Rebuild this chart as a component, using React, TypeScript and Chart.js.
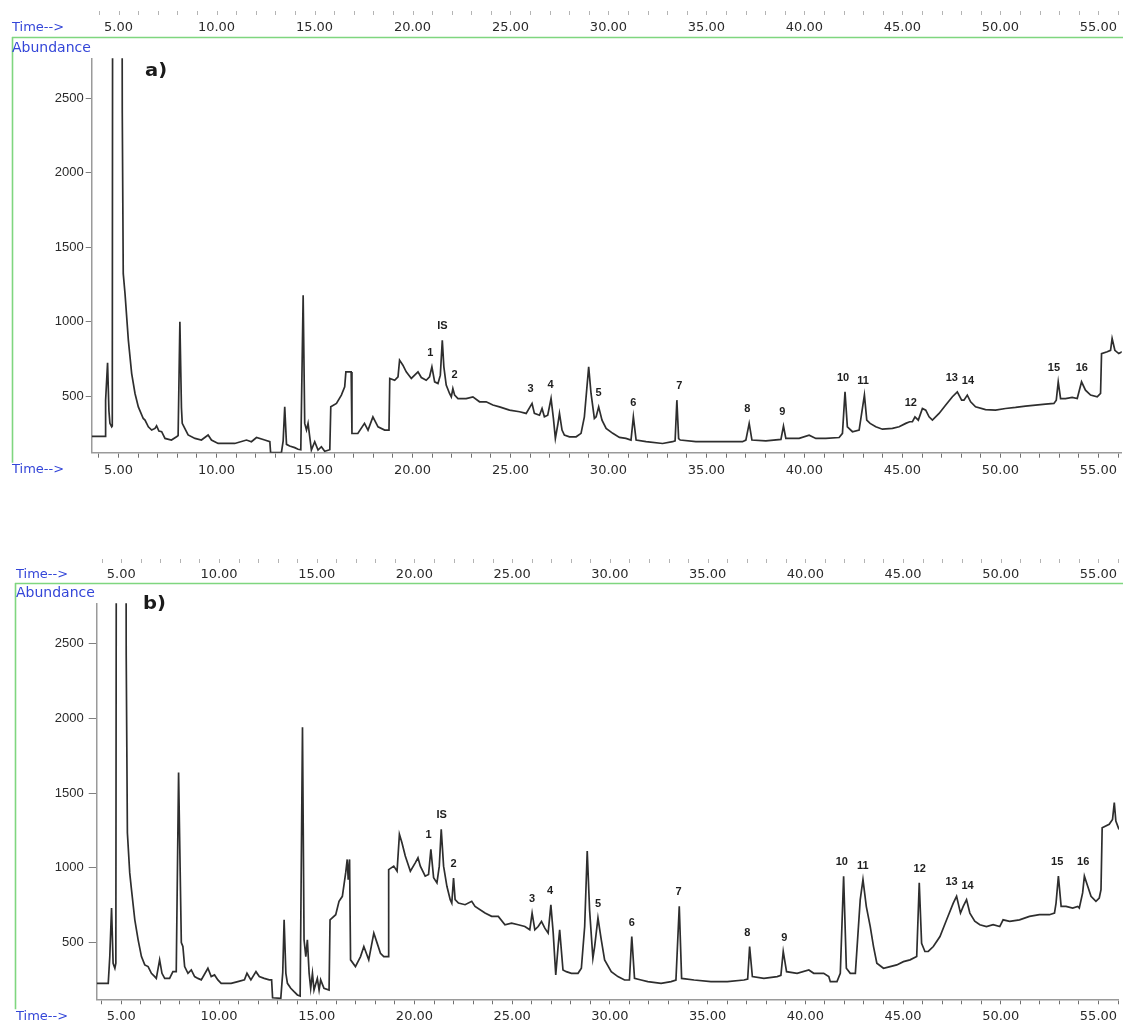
import React, { useEffect, useRef } from 'react';
import { Chart, registerables } from 'chart.js';

Chart.register(...registerables);

// ---------- data (retention time in minutes, abundance) ----------
const timesA = [3.63, 4.31, 4.34, 4.44, 4.51, 4.56, 4.65, 4.68, 4.73, 5.12, 5.19, 5.24, 5.33, 5.50, 5.67, 5.84, 6.01, 6.26, 6.35, 6.52, 6.69, 6.86, 6.94, 7.06, 7.20, 7.37, 7.70, 7.96, 8.04, 8.13, 8.21, 8.25, 8.38, 8.55, 8.90, 9.23, 9.57, 9.74, 10.08, 10.93, 11.53, 11.78, 12.04, 12.46, 12.72, 12.76, 13.31, 13.40, 13.48, 13.57, 13.73, 13.99, 14.16, 14.30, 14.42, 14.50, 14.59, 14.67, 14.84, 15.01, 15.18, 15.35, 15.52, 15.78, 15.83, 16.12, 16.37, 16.54, 16.60, 16.87, 16.91, 17.21, 17.55, 17.73, 17.98, 18.24, 18.58, 18.80, 18.84, 19.09, 19.26, 19.34, 19.51, 19.68, 19.94, 20.11, 20.28, 20.45, 20.70, 20.87, 20.99, 21.13, 21.30, 21.42, 21.52, 21.60, 21.72, 21.89, 21.98, 22.06, 22.15, 22.32, 22.74, 23.08, 23.42, 23.76, 24.10, 24.44, 24.95, 25.46, 25.80, 26.10, 26.22, 26.48, 26.61, 26.73, 26.90, 27.07, 27.19, 27.29, 27.41, 27.50, 27.63, 27.75, 28.01, 28.35, 28.60, 28.77, 28.99, 29.11, 29.28, 29.37, 29.50, 29.67, 29.88, 30.22, 30.56, 30.89, 31.15, 31.27, 31.41, 31.92, 32.76, 33.27, 33.40, 33.49, 33.58, 33.66, 34.46, 35.31, 36.16, 36.84, 37.01, 37.18, 37.32, 38.03, 38.80, 38.93, 39.05, 39.73, 40.24, 40.58, 41.09, 41.77, 41.94, 42.07, 42.19, 42.45, 42.79, 43.06, 43.18, 43.35, 43.64, 43.98, 44.49, 44.83, 45.17, 45.37, 45.51, 45.64, 45.81, 46.02, 46.19, 46.36, 46.53, 46.87, 47.21, 47.55, 47.80, 48.02, 48.14, 48.31, 48.48, 48.73, 49.24, 49.75, 50.26, 50.77, 51.28, 51.79, 52.30, 52.73, 52.85, 52.95, 53.07, 53.32, 53.66, 53.92, 54.14, 54.34, 54.60, 54.94, 55.11, 55.16, 55.45, 55.62, 55.70, 55.84, 56.04, 56.21];
const abundanceA = [230, 230, 473, 724, 400, 317, 294, 300, 9000, 9000, 2408, 1323, 1189, 876, 652, 518, 428, 350, 339, 294, 272, 283, 300, 265, 261, 216, 205, 227, 235, 999, 420, 317, 283, 239, 216, 205, 239, 205, 182, 182, 205, 194, 222, 205, 194, 120, 120, 200, 428, 176, 165, 154, 143, 140, 1178, 317, 272, 317, 138, 194, 138, 160, 130, 140, 428, 451, 507, 563, 663, 663, 249, 249, 317, 272, 361, 294, 272, 272, 619, 607, 630, 742, 708, 663, 619, 641, 663, 625, 607, 630, 697, 596, 585, 641, 876, 697, 574, 518, 495, 551, 507, 484, 484, 495, 462, 462, 440, 428, 406, 395, 384, 451, 384, 372, 417, 361, 372, 484, 350, 216, 306, 384, 272, 238, 227, 227, 250, 361, 697, 518, 350, 361, 428, 339, 283, 250, 223, 216, 205, 361, 205, 194, 182, 194, 200, 473, 215, 205, 194, 194, 194, 194, 205, 317, 205, 200, 209, 299, 216, 216, 238, 216, 216, 222, 250, 529, 294, 261, 272, 507, 339, 317, 294, 278, 283, 294, 317, 328, 328, 361, 339, 417, 406, 361, 339, 384, 440, 496, 529, 473, 473, 507, 462, 428, 410, 406, 417, 424, 433, 440, 446, 451, 473, 596, 484, 484, 491, 484, 596, 540, 507, 496, 518, 786, 798, 808, 887, 808, 786, 798];

const timesB = [3.74, 4.33, 4.41, 4.50, 4.58, 4.67, 4.72, 4.79, 5.18, 5.25, 5.31, 5.43, 5.52, 5.69, 5.86, 6.03, 6.20, 6.37, 6.54, 6.71, 6.79, 6.96, 7.08, 7.22, 7.47, 7.64, 7.81, 7.93, 8.07, 8.15, 8.24, 8.41, 8.58, 8.75, 8.92, 9.09, 9.43, 9.60, 9.77, 9.94, 10.11, 10.62, 10.96, 11.30, 11.43, 11.63, 11.89, 12.06, 12.31, 12.57, 12.69, 12.74, 13.16, 13.26, 13.33, 13.42, 13.50, 13.67, 13.84, 14.01, 14.15, 14.27, 14.35, 14.44, 14.52, 14.61, 14.69, 14.78, 14.86, 15.03, 15.12, 15.20, 15.37, 15.63, 15.68, 15.97, 16.14, 16.31, 16.48, 16.56, 16.61, 16.68, 16.73, 16.98, 17.24, 17.41, 17.66, 17.92, 18.09, 18.26, 18.43, 18.65, 18.68, 18.94, 19.11, 19.23, 19.36, 19.53, 19.79, 20.04, 20.18, 20.30, 20.55, 20.72, 20.84, 20.98, 21.15, 21.27, 21.37, 21.49, 21.66, 21.83, 21.91, 22.00, 22.08, 22.25, 22.59, 22.93, 23.10, 23.61, 23.95, 24.29, 24.63, 24.97, 25.31, 25.65, 25.90, 26.02, 26.16, 26.33, 26.50, 26.67, 26.84, 26.98, 27.10, 27.23, 27.35, 27.43, 27.60, 27.77, 28.03, 28.37, 28.54, 28.71, 28.84, 28.96, 29.13, 29.22, 29.39, 29.56, 29.73, 30.07, 30.41, 30.75, 31.00, 31.12, 31.26, 31.60, 31.94, 32.62, 33.13, 33.38, 33.55, 33.67, 34.31, 35.17, 36.01, 36.86, 37.05, 37.15, 37.29, 37.88, 38.56, 38.75, 38.87, 39.04, 39.58, 40.18, 40.43, 40.94, 41.20, 41.28, 41.62, 41.79, 41.96, 42.10, 42.30, 42.56, 42.81, 42.95, 43.12, 43.32, 43.49, 43.66, 44.00, 44.34, 44.68, 45.02, 45.36, 45.70, 45.83, 45.95, 46.12, 46.29, 46.55, 46.89, 47.23, 47.57, 47.74, 47.94, 48.08, 48.25, 48.42, 48.67, 48.93, 49.27, 49.61, 49.95, 50.12, 50.46, 50.96, 51.47, 51.98, 52.49, 52.75, 52.83, 52.95, 53.09, 53.34, 53.68, 53.94, 54.02, 54.19, 54.28, 54.45, 54.62, 54.87, 55.04, 55.13, 55.19, 55.55, 55.72, 55.81, 55.89, 56.05];
const abundanceB = [227, 227, 406, 731, 361, 328, 361, 9000, 9000, 2422, 1235, 966, 854, 652, 518, 406, 350, 339, 294, 272, 260, 384, 294, 260, 260, 305, 305, 1638, 500, 473, 339, 294, 317, 272, 260, 250, 328, 272, 283, 250, 227, 227, 238, 250, 294, 250, 305, 272, 260, 250, 250, 130, 126, 300, 652, 294, 227, 194, 171, 149, 142, 1940, 518, 406, 518, 294, 193, 294, 182, 260, 182, 250, 193, 182, 652, 686, 776, 809, 966, 1056, 920, 1056, 384, 339, 406, 473, 384, 563, 496, 428, 406, 406, 988, 1011, 977, 1224, 1168, 1079, 977, 1033, 1067, 1011, 944, 955, 1123, 933, 899, 1011, 1257, 1011, 876, 787, 764, 932, 787, 764, 753, 776, 742, 697, 675, 675, 619, 630, 619, 607, 585, 697, 585, 607, 641, 596, 563, 753, 563, 283, 473, 585, 316, 305, 294, 294, 328, 607, 1112, 720, 395, 473, 664, 518, 384, 305, 272, 249, 249, 540, 260, 249, 238, 227, 238, 249, 742, 260, 249, 238, 238, 249, 255, 473, 272, 260, 272, 280, 440, 305, 294, 316, 294, 294, 272, 238, 238, 294, 944, 328, 294, 294, 787, 921, 742, 608, 473, 361, 328, 339, 350, 372, 384, 406, 899, 495, 440, 440, 473, 540, 652, 764, 809, 697, 742, 787, 697, 643, 619, 607, 619, 607, 652, 641, 652, 675, 686, 686, 697, 764, 944, 742, 742, 731, 742, 731, 832, 944, 876, 809, 776, 798, 854, 1268, 1291, 1324, 1436, 1313, 1257];

const peakNames = ['1', 'IS', '2', '3', '4', '5', '6', '7', '8', '9', '10', '11', '12', '13', '14', '15', '16'];
const peakTimesA = [20.91, 21.53, 22.15, 26.02, 27.04, 29.49, 31.27, 33.62, 37.08, 38.87, 41.97, 42.99, 45.43, 47.52, 48.34, 52.73, 54.15];
const peakTimesB = [20.72, 21.39, 22.0, 26.02, 26.94, 29.39, 31.12, 33.52, 37.03, 38.92, 41.87, 42.94, 45.85, 47.48, 48.30, 52.89, 54.22];

const majorTimes = [5, 10, 15, 20, 25, 30, 35, 40, 45, 50, 55];
const yTickValues = [500, 1000, 1500, 2000, 2500];
const timeTitle = 'Time-->';
const abundanceTitle = 'Abundance';

// ---------- styling ----------
const BLUE = '#3446d8';
const GREEN = '#7fd67f';
const TRACE = '#2e2e2e';
const AXIS = '#9a9a9a';
const TEXT = '#2a2a2a';
const X_FONT = '"DejaVu Sans", sans-serif';
const Y_FONT = '"Liberation Sans", Arial, sans-serif';

type PanelCfg = {
  letter: string;
  times: number[];
  values: number[];
  peakTimes: number[];
  top: number;
  height: number;
  axisLeft: number;
  areaTop: number;
  areaBottom: number;
  xMin: number;
  xMax: number;
  yMin: number;
  yMax: number;
  frameX: number;
  textX: number;
  topTickY: number;
  topLabelY: number;
  greenY: number;
  abundY: number;
  bottomLabelY: number;
  letterX: number;
  letterY: number;
  yTickLen: number;
  yPad: number;
};

function makeDecor(cfg: PanelCfg) {
  return {
    id: 'decor' + cfg.letter,
    afterDraw(chart: any) {
      const ctx = chart.ctx as CanvasRenderingContext2D;
      const xs = chart.scales.x;
      const ys = chart.scales.y;
      const area = chart.chartArea;
      const W = chart.width;
      ctx.save();

      // green frame lines
      ctx.strokeStyle = GREEN;
      ctx.lineWidth = 1.6;
      ctx.beginPath();
      ctx.moveTo(cfg.frameX, cfg.greenY + 0.5);
      ctx.lineTo(W, cfg.greenY + 0.5);
      ctx.moveTo(cfg.frameX + 0.5, cfg.greenY);
      ctx.lineTo(cfg.frameX + 0.5, area.bottom + 10);
      ctx.stroke();

      // top (cut-off) axis tick marks
      ctx.strokeStyle = '#b4b4b4';
      ctx.lineWidth = 1;
      ctx.beginPath();
      for (let t = Math.ceil(xs.min); t <= xs.max; t++) {
        const px = Math.round(xs.getPixelForValue(t)) + 0.5;
        ctx.moveTo(px, cfg.topTickY);
        ctx.lineTo(px, cfg.topTickY + 4);
      }
      ctx.stroke();

      // top axis labels
      ctx.font = '13px ' + X_FONT;
      ctx.fillStyle = TEXT;
      ctx.textAlign = 'center';
      ctx.textBaseline = 'middle';
      majorTimes.forEach((t) => {
        ctx.fillText(t.toFixed(2), xs.getPixelForValue(t), cfg.topLabelY);
      });

      // blue titles
      ctx.fillStyle = BLUE;
      ctx.textAlign = 'left';
      ctx.fillText(timeTitle, cfg.textX, cfg.topLabelY);
      ctx.fillText(timeTitle, cfg.textX, cfg.bottomLabelY);
      ctx.font = '14px ' + X_FONT;
      ctx.fillText(abundanceTitle, cfg.textX, cfg.abundY);

      // panel letter
      ctx.fillStyle = '#1a1a1a';
      ctx.font = 'bold 17px ' + X_FONT;
      ctx.save();
      ctx.translate(cfg.letterX, cfg.letterY);
      ctx.scale(1.15, 1);
      ctx.fillText(cfg.letter, 0, 0);
      ctx.restore();

      // peak labels
      ctx.font = 'bold 11px ' + Y_FONT;
      ctx.fillStyle = '#1e1e1e';
      ctx.textAlign = 'center';
      ctx.textBaseline = 'middle';
      peakNames.forEach((name, i) => {
        const t = cfg.peakTimes[i];
        let best = -Infinity;
        cfg.times.forEach((tt, j) => {
          if (Math.abs(tt - t) <= 0.3 && cfg.values[j] > best) best = cfg.values[j];
        });
        const px = xs.getPixelForValue(t);
        const py = ys.getPixelForValue(best);
        ctx.fillText(name, px, py - 14);
      });

      ctx.restore();
    },
  };
}

function Panel({ cfg }: { cfg: PanelCfg }) {
  const ref = useRef<HTMLCanvasElement | null>(null);
  useEffect(() => {
    if (!ref.current) return;
    const chart = new Chart(ref.current, {
      type: 'line',
      data: {
        datasets: [
          {
            data: cfg.times.map((t, i) => ({ x: t, y: cfg.values[i] })),
            borderColor: TRACE,
            borderWidth: 1.7,
            pointRadius: 0,
            tension: 0,
            fill: false,
          },
        ],
      },
      options: {
        responsive: false,
        maintainAspectRatio: false,
        animation: false,
        events: [],
        layout: { padding: { top: cfg.areaTop, left: 0, right: 0, bottom: 0 } },
        plugins: { legend: { display: false }, tooltip: { enabled: false } },
        scales: {
          x: {
            type: 'linear',
            position: 'bottom',
            min: cfg.xMin,
            max: cfg.xMax,
            grid: { drawOnChartArea: false, drawTicks: true, tickLength: 5, color: '#707070', lineWidth: 1 },
            border: { display: true, color: AXIS, width: 1.5 },
            ticks: {
              stepSize: 1,
              includeBounds: false,
              autoSkip: false,
              maxRotation: 0,
              minRotation: 0,
              padding: 5,
              color: TEXT,
              font: { family: X_FONT, size: 13 },
              callback: (v: any) => (Number(v) % 5 === 0 ? Number(v).toFixed(2) : ''),
            },
            afterFit: (s: any) => {
              s.height = cfg.height - cfg.areaBottom;
            },
          },
          y: {
            type: 'linear',
            min: cfg.yMin,
            max: cfg.yMax,
            grid: { drawOnChartArea: false, drawTicks: true, tickLength: cfg.yTickLen, color: '#808080', lineWidth: 1 },
            border: { display: true, color: AXIS, width: 1.5 },
            afterBuildTicks: (s: any) => {
              s.ticks = yTickValues.map((v) => ({ value: v }));
            },
            ticks: {
              padding: cfg.yPad,
              color: TEXT,
              font: { family: Y_FONT, size: 13 },
              callback: (v: any) => String(v),
            },
            afterFit: (s: any) => {
              s.width = cfg.axisLeft;
            },
          },
        },
      },
      plugins: [makeDecor(cfg)],
    } as any);
    return () => chart.destroy();
  }, [cfg]);
  return (
    <canvas
      ref={ref}
      width={1123}
      height={cfg.height}
      style={{ position: 'absolute', left: 0, top: cfg.top, width: 1123, height: cfg.height, display: 'block' }}
    />
  );
}

const panelA: PanelCfg = {
  letter: 'a)',
  times: timesA,
  values: abundanceA,
  peakTimes: peakTimesA,
  top: 0,
  height: 490,
  axisLeft: 91.7,
  areaTop: 58.3,
  areaBottom: 452.7,
  xMin: 3.63,
  xMax: 56.19,
  yMin: 120,
  yMax: 2770,
  frameX: 12,
  textX: 12,
  topTickY: 11,
  topLabelY: 28,
  greenY: 37,
  abundY: 48,
  bottomLabelY: 470,
  letterX: 145,
  letterY: 72,
  yTickLen: 6,
  yPad: 2,
};

const panelB: PanelCfg = {
  letter: 'b)',
  times: timesB,
  values: abundanceB,
  peakTimes: peakTimesB,
  top: 546,
  height: 478,
  axisLeft: 96.7,
  areaTop: 57.3,
  areaBottom: 453.3,
  xMin: 3.74,
  xMax: 56.05,
  yMin: 120,
  yMax: 2770,
  frameX: 15,
  textX: 16,
  topTickY: 13,
  topLabelY: 29,
  greenY: 37,
  abundY: 47,
  bottomLabelY: 471,
  letterX: 143,
  letterY: 59,
  yTickLen: 8,
  yPad: 5,
};

export default function App() {
  return (
    <div style={{ position: 'absolute', left: 0, top: 0, width: 1123, height: 1024, background: '#ffffff', overflow: 'hidden' }}>
      <Panel cfg={panelA} />
      <Panel cfg={panelB} />
    </div>
  );
}
